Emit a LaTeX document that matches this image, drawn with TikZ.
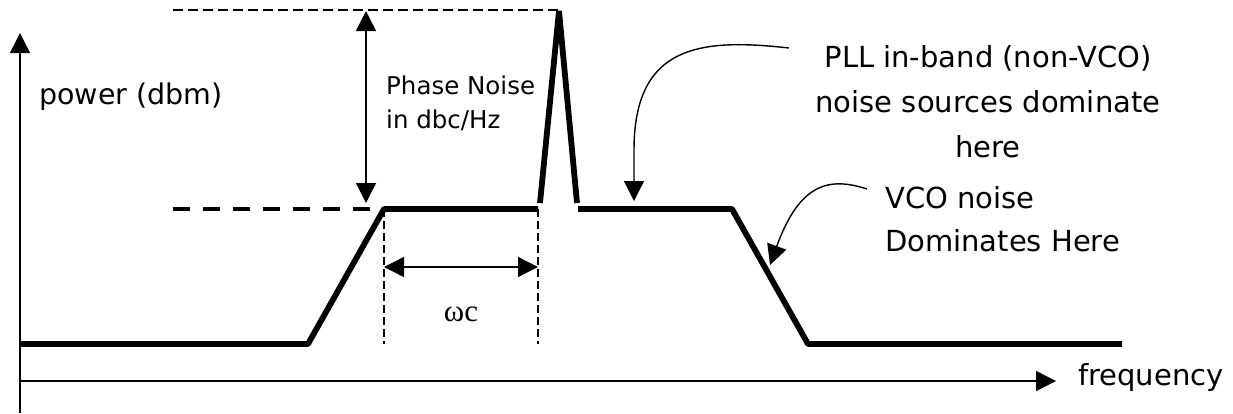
\documentclass[tikz,border=0pt]{standalone}
\usepackage{fontspec}
\newfontfamily\tah{DejaVu Sans}
\newfontfamily\ser{Liberation Serif}
\usetikzlibrary{arrows.meta}
\begin{document}
\begin{tikzpicture}[x=1pt,y=-1pt,
  tri/.style={-{Triangle[length=20pt,width=20pt]}},
  tritwo/.style={{Triangle[length=20pt,width=20pt]}-{Triangle[length=20pt,width=20pt]}},
  axisline/.style={line width=1.4pt,tri},
  thick curve/.style={line width=5.8pt,line join=bevel},
  thin dash/.style={line width=1.3pt,dash pattern=on 10pt off 5pt},
  thick dash/.style={line width=4pt,dash pattern=on 17pt off 13pt},
  guide dash/.style={line width=1.3pt,dash pattern=on 8pt off 4pt},
  dimarrow/.style={line width=1.4pt,tritwo},
  callout/.style={line width=1.4pt,tri},
  lbl/.style={inner sep=0pt,font=\tah\fontsize{29}{34}\selectfont},
  small lbl/.style={inner sep=0pt,font=\tah\fontsize{24.5}{30}\selectfont},
  big lbl/.style={inner sep=0pt,font=\tah\fontsize{28.5}{34}\selectfont}
]
\useasboundingbox (0,0) rectangle (1233,413);

% axes
\coordinate (origin) at (20,413);
\coordinate (ytip) at (20,33);
\coordinate (xstart) at (20,381);
\coordinate (xtip) at (1056,381);
\draw[axisline] (origin) -- (ytip);
\draw[axisline] (xstart) -- (xtip);

% spectrum
\coordinate (l0) at (20,344);
\coordinate (l1) at (308,344);
\coordinate (l2) at (384,209);
\coordinate (l3) at (538,209);
\coordinate (p0) at (540,203);
\coordinate (p1) at (559,11);
\coordinate (p2) at (577,203);
\coordinate (r0) at (578,209);
\coordinate (r1) at (732,209);
\coordinate (r2) at (808,344);
\coordinate (r3) at (1122,344);
\draw[thick curve] (l0) -- (l1) -- (l2) -- (l3);
\draw[thick curve] (p0) -- (p1) -- (p2);
\draw[thick curve] (r0) -- (r1) -- (r2) -- (r3);

% reference dashed lines
\coordinate (topdash) at (173,10);
\coordinate (topend) at (559,10);
\coordinate (lowdash) at (173,209);
\draw[thin dash] (topdash) -- (topend);
\draw[thick dash] (lowdash) -- (l2);

% vertical guides
\coordinate (g1b) at (384,344);
\coordinate (g2b) at (538,344);
\draw[guide dash] (l2) -- (g1b);
\draw[guide dash] (l3) -- (g2b);

% dimension arrows
\coordinate (va) at (366,11);
\coordinate (vb) at (366,203);
\draw[dimarrow] (va) -- (vb);
\coordinate (ha) at (384,267);
\coordinate (hb) at (538,267);
\draw[dimarrow] (ha) -- (hb);

% labels
\node[big lbl,anchor=base west] (power) at (39,104) {power (dbm)};
\node[small lbl,anchor=base west] (pn1) at (386,94) {Phase Noise};
\node[small lbl,anchor=base west] (pn2) at (386,128) {in dbc/Hz};
\node[inner sep=0pt,font=\ser\fontsize{31}{34}\selectfont] (wc) at (461,314) {ωc};
\node[lbl,anchor=base] (pll1) at (988,67) {PLL in-band (non-VCO)};
\node[lbl,anchor=base] (pll2) at (988,112) {noise sources dominate};
\node[lbl,anchor=base] (pll3) at (988,157) {here};
\node[lbl,anchor=base west] (vco1) at (885,208) {VCO noise};
\node[lbl,anchor=base west] (vco2) at (885,251) {Dominates Here};
\node[lbl,anchor=base west] (freq) at (1078,385) {frequency};

% callout arrows
\coordinate (c1s) at (789,48);
\coordinate (c1t) at (634,201);
\draw[callout] (c1s) .. controls (700,38) and (634,45) .. (634,150) -- (c1t);
\coordinate (c2s) at (867,189);
\coordinate (c2t) at (770,265);
\draw[callout] (c2s) .. controls (830,177) and (800,182) .. (c2t);
\end{tikzpicture}
\end{document}
